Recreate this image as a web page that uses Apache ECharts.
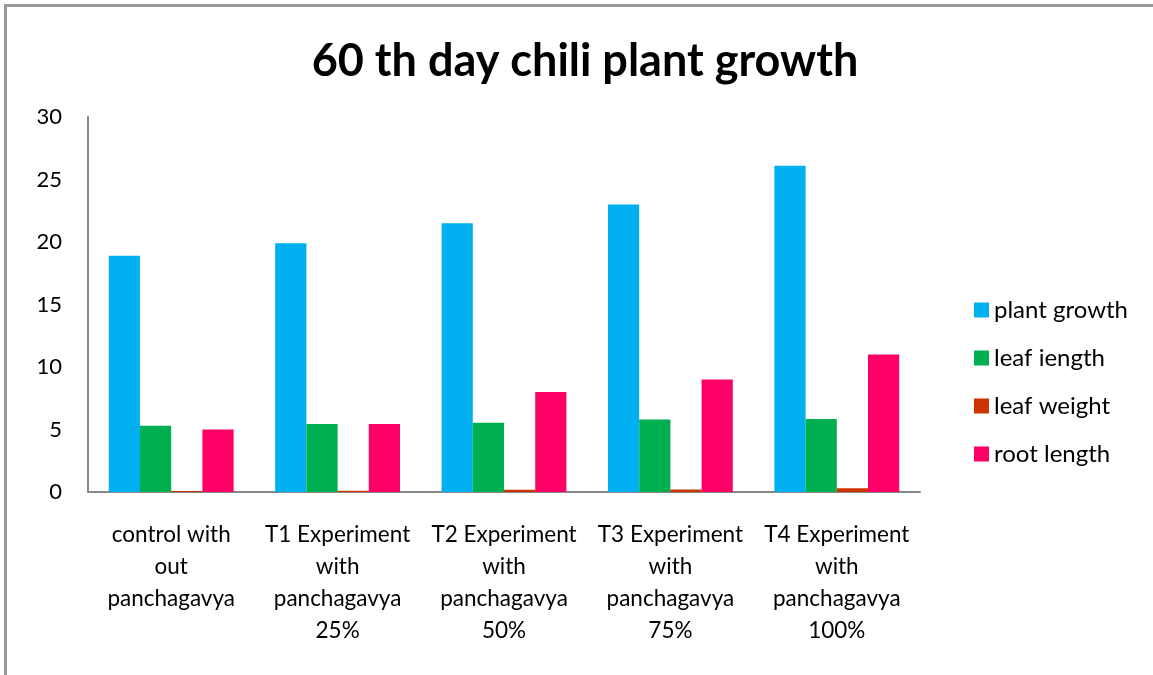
<!DOCTYPE html>
<html><head><meta charset="utf-8">
<script src="https://cdn.jsdelivr.net/npm/echarts@6/dist/echarts.min.js"></script>
<style>html,body{margin:0;padding:0;background:#fff}#c{width:1153px;height:675px}</style>
</head><body><div id="c"></div>
<script>
const categories = [
  "control with\nout\npanchagavya",
  "T1 Experiment\nwith\npanchagavya\n25%",
  "T2 Experiment\nwith\npanchagavya\n50%",
  "T3 Experiment\nwith\npanchagavya\n75%",
  "T4 Experiment\nwith\npanchagavya\n100%"
];
const plantGrowth = [18.9, 19.9, 21.5, 23.0, 26.1];
const leafLength = [5.3, 5.45, 5.55, 5.8, 5.85];
const leafWeight = [0.08, 0.1, 0.18, 0.2, 0.3];
const rootLength = [5.0, 5.45, 8.0, 9.0, 11.0];
const seriesNames = ["plant growth", "leaf iength", "leaf weight", "root length"];
const colors = ["#00B0F0", "#00B050", "#CC3300", "#FF0066"];
const FONT = "Lato";

const chart = echarts.init(document.getElementById('c'));
const values = [plantGrowth, leafLength, leafWeight, rootLength];
chart.setOption({
  animation: false,
  title: {
    text: "60 th day chili plant growth",
    left: 580, top: 34, textAlign: 'center',
    textStyle: {fontFamily: FONT, fontWeight: 'bold', fontSize: 45, color: '#000'}
  },
  graphic: [{
    type: 'rect', shape: {x: 5.5, y: 5.5, width: 1200, height: 720},
    style: {fill: 'none', stroke: '#999', lineWidth: 3}, z: 100
  }],
  legend: {
    orient: 'vertical', left: 969, top: 293, itemGap: 24, itemWidth: 15, itemHeight: 15,
    icon: 'rect',
    textStyle: {fontFamily: FONT, fontSize: 24, color: '#000', padding: [0, 0, 0, 0]},
    data: seriesNames
  },
  grid: {left: 88, right: 233, top: 117, bottom: 183},
  xAxis: {
    type: 'category', data: categories,
    axisLine: {lineStyle: {color: '#888', width: 2}},
    axisTick: {show: false},
    axisLabel: {interval: 0, fontFamily: FONT, fontSize: 22.5, color: '#000', lineHeight: 32, margin: 27}
  },
  yAxis: {
    type: 'value', min: 0, max: 30, interval: 5,
    axisLine: {show: true, lineStyle: {color: '#888', width: 2}},
    axisTick: {show: false},
    splitLine: {show: false},
    axisLabel: {fontFamily: FONT, fontSize: 22, color: '#000', margin: 26}
  },
  series: seriesNames.map((n, i) => ({
    name: n, type: 'bar', data: values[i], barGap: '0%', barCategoryGap: '25%',
    itemStyle: {color: colors[i]}
  }))
});
</script></body></html>
